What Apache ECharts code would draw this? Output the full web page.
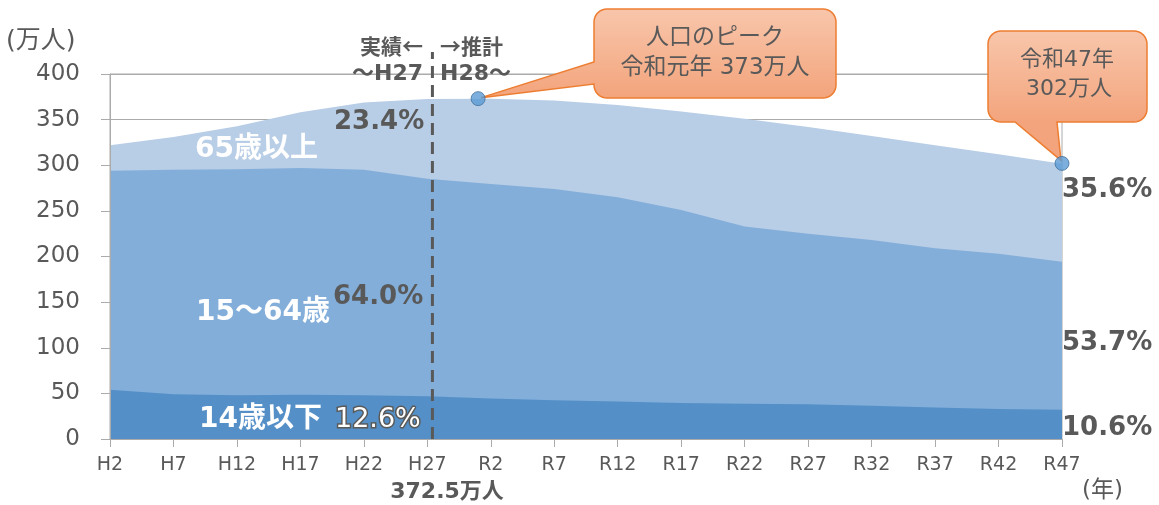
<!DOCTYPE html>
<html><head><meta charset="utf-8">
<script src="https://cdn.jsdelivr.net/npm/echarts@6/dist/echarts.min.js"></script>
<style>html,body{margin:0;padding:0;background:#fff}#c{width:1159px;height:505px}</style>
</head><body><div id="c"></div>
<script>
// ---- data (万人) ----
const years    = [1990,1995,2000,2005,2010,2015,2020,2025,2030,2035,2040,2045,2050,2055,2060,2065];
const age0_14  = [54,49,48,48.5,48,46.9,44.5,42.5,41,39.5,38.5,38,36.5,34.5,33,32];
const age15_64 = [240,246,247.5,248.5,247,238.4,235,231.5,224,211.5,194.5,187,181.5,174.5,170,162.2];
const age65    = [28,36,47.2,61,73.9,87.2,93.5,97,101,108,118,117,114,113,109,107.5];
const peakYear = 2019, peakValue = 373;
const endYear = 2065, endValue = 302;
const dividerYear = 2015.4;
const yTicks = {min:0, max:400, interval:50};

const F = "'DejaVu Sans','Noto Sans CJK JP',sans-serif";
const FJ = "'Noto Sans CJK JP',sans-serif";
const GRAY = '#595959';
const AX = '#ABABAB';

function yearLabel(v){ return v <= 2018 ? 'H' + (v - 1988) : 'R' + (v - 2018); }
// cumulative layers (drawn back to front, each filled down to 0)
const cumLow  = years.map((y,i)=>[y, age0_14[i]]);
const cumMid  = years.map((y,i)=>[y, age0_14[i] + age15_64[i]]);
const cumTop  = years.map((y,i)=>[y, age0_14[i] + age15_64[i] + age65[i]]);

const chart = echarts.init(document.getElementById('c'), null, {renderer:'canvas'});
const areaSeries = (name, data, color) => ({
  name, type:'line', data, symbol:'none', showSymbol:false,
  lineStyle:{width:0}, areaStyle:{color:color, opacity:1}, itemStyle:{color:color}, z:2, silent:true
});
const option = {
  animation:false,
  grid:{left:110, right:97, top:74, bottom:66, show:true, borderColor:AX, borderWidth:1, backgroundColor:'transparent'},
  xAxis:{type:'value', min:1990, max:2065, interval:5, z:5,
    axisLine:{show:true, lineStyle:{color:AX, width:1}},
    axisTick:{show:true, length:8, lineStyle:{color:AX}},
    splitLine:{show:false},
    axisLabel:{formatter:yearLabel, color:GRAY, fontSize:19, fontFamily:F, margin:17}
  },
  yAxis:[
    {type:'value', min:yTicks.min, max:yTicks.max, interval:yTicks.interval, z:5,
     axisLine:{show:true, lineStyle:{color:AX, width:1}},
     axisTick:{show:true, length:9, lineStyle:{color:AX}},
     splitLine:{show:false},
     axisLabel:{color:GRAY, fontSize:23, fontFamily:F, margin:30}},
    {type:'value', min:yTicks.min, max:yTicks.max, interval:yTicks.interval, z:0, position:'left',
     axisLine:{show:false}, axisTick:{show:false}, axisLabel:{show:false},
     splitLine:{show:true, lineStyle:{color:AX, width:1}}}
  ],
  series:[
    areaSeries('65歳以上', cumTop, '#B8CDE6'),
    areaSeries('15〜64歳', cumMid, '#83AEDA'),
    areaSeries('14歳以下', cumLow, '#5490C7'),
    {type:'line', data:[[dividerYear,0],[dividerYear,424]], symbol:'none', showSymbol:false, clip:false, silent:true, z:6,
     lineStyle:{color:GRAY, width:3, type:[12,7]}},
    {type:'scatter', data:[[peakYear,peakValue],[endYear,endValue]], symbol:'circle', symbolSize:14, z:20, silent:true,
     itemStyle:{color:'#5B9BD5', borderColor:'#41719C', borderWidth:1}}
  ]
};
chart.setOption(option);

const p1 = chart.convertToPixel({gridIndex:0}, [peakYear, peakValue]);
const p2 = chart.convertToPixel({gridIndex:0}, [endYear, endValue]);

// rounded-rect callout outline as a polygon (clockwise), with pointer points inserted
function calloutPts(x0,y0,x1,y1,r,bottomIns,leftIns){
  const pts = [];
  const arc = (cx,cy,a0,a1)=>{ for(let k=0;k<=8;k++){ const a=(a0+(a1-a0)*k/8)*Math.PI/180; pts.push([cx+r*Math.cos(a), cy+r*Math.sin(a)]); } };
  arc(x0+r,y0+r,180,270);
  arc(x1-r,y0+r,270,360);
  arc(x1-r,y1-r,0,90);
  bottomIns.forEach(p=>pts.push(p));
  arc(x0+r,y1-r,90,180);
  leftIns.forEach(p=>pts.push(p));
  return pts;
}
function grad(y0,y1){ return {type:'linear', x:0, y:y0, x2:0, y2:y1, global:true,
  colorStops:[{offset:0,color:'#F8C6AB'},{offset:1,color:'#F3A47C'}]}; }
const c1 = calloutPts(594,9,836,98,13,[],[[594,84],[p1[0]+3,p1[1]-1],[594,62]]);
const c2 = calloutPts(988,31,1147,122,13,[[1057,122],[p2[0]-1,p2[1]-3],[1015,122]],[]);

function txt(text, x, y, opt){
  opt = opt || {};
  return {type:'text', x:x, y:y, z:30, silent:true, style:Object.assign({
    text:text, fill: opt.fill || GRAY,
    font: (opt.weight||'normal') + ' ' + (opt.size||22) + 'px ' + (opt.family || F),
    textAlign: opt.align || 'left',
    textVerticalAlign:'middle'
  }, opt.extra || {})};
}
const W = '#ffffff';
chart.setOption({graphic:[
  {type:'polygon', shape:{points:c1}, z:10, silent:true, style:{fill:grad(9,98), stroke:'#ED7D31', lineWidth:1.5}},
  {type:'polygon', shape:{points:c2}, z:10, silent:true, style:{fill:grad(31,122), stroke:'#ED7D31', lineWidth:1.5}},
  txt('人口のピーク', 715, 38, {size:23, align:'center'}),
  txt('令和元年 373万人', 715, 68, {size:23, align:'center'}),
  txt('令和47年', 1067, 60, {size:22, align:'center'}),
  txt('302万人', 1069, 89, {size:22, align:'center'}),
  txt('(万人)', 6, 41, {size:25}),
  txt('(年)', 1082, 491, {size:23}),
  txt('372.5万人', 447, 492, {size:22, weight:'bold', align:'center'}),
  txt('実績←', 423, 46, {size:21, weight:'bold', align:'right', family:FJ}),
  txt('〜H27', 423, 74, {size:22, weight:'bold', align:'right'}),
  txt('→推計', 440, 46, {size:21, weight:'bold', family:FJ}),
  txt('H28〜', 440, 74, {size:22, weight:'bold'}),
  txt('65歳以上', 195, 150, {size:28, weight:'bold', fill:W}),
  txt('15〜64歳', 196, 313, {size:28, weight:'bold', fill:W}),
  txt('14歳以下', 199, 420, {size:28, weight:'bold', fill:W}),
  txt('12.6%', 335, 420, {size:27, fill:W, extra:{stroke:GRAY, lineWidth:3}}),
  txt('64.0%', 333, 297, {size:26, weight:'bold'}),
  txt('23.4%', 334, 122, {size:26, weight:'bold'}),
  txt('35.6%', 1062, 190, {size:26, weight:'bold'}),
  txt('53.7%', 1062, 343, {size:26, weight:'bold'}),
  txt('10.6%', 1062, 428, {size:26, weight:'bold'})
]});
</script></body></html>
